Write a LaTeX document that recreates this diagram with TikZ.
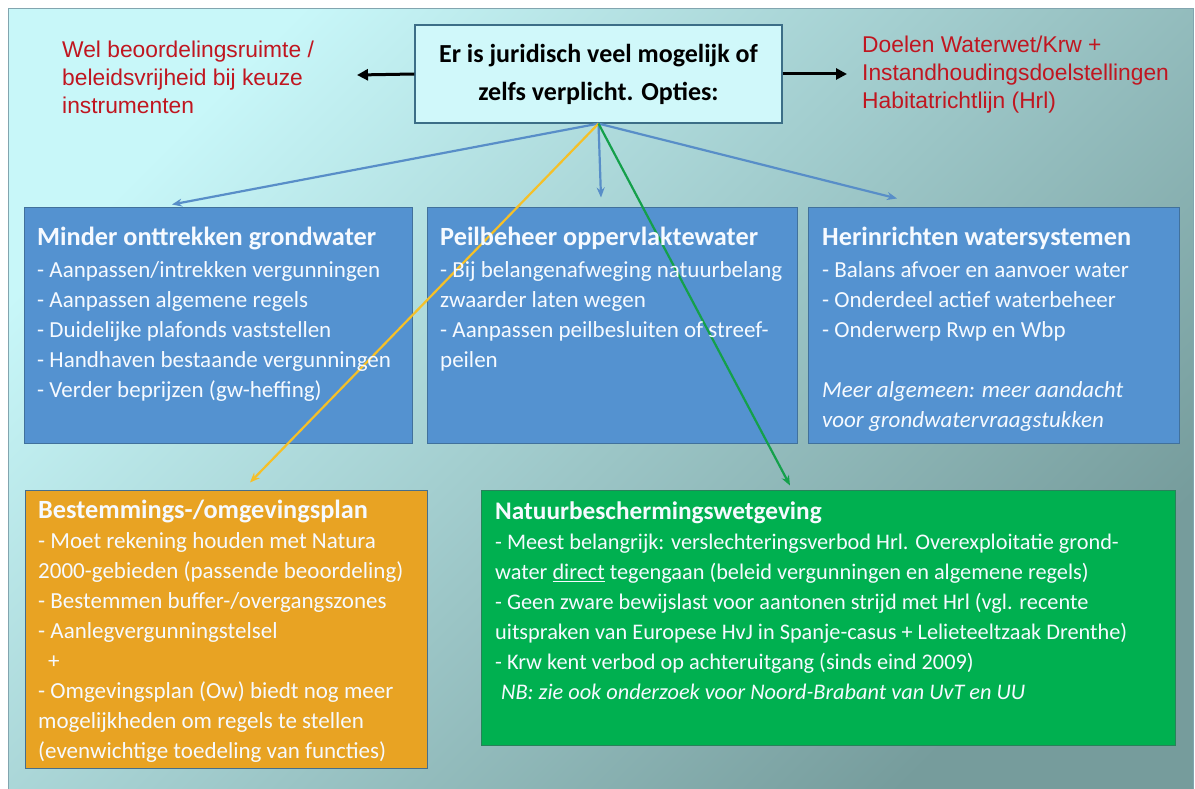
\documentclass[tikz,border=0pt]{standalone}
\usepackage{fontspec}
\setmainfont{Carlito}
\newfontfamily\arialfont{Liberation Sans}
\usetikzlibrary{arrows.meta}
\definecolor{bgtl}{RGB}{200,247,249}
\definecolor{bgmid}{RGB}{168,222,224}
\definecolor{bgbr}{RGB}{118,156,156}
\definecolor{bgrand}{RGB}{130,165,175}
\definecolor{optiesfill}{RGB}{208,248,250}
\definecolor{optiesrand}{RGB}{60,110,135}
\definecolor{rood}{RGB}{192,22,32}
\definecolor{blauw}{RGB}{84,146,208}
\definecolor{blauwrand}{RGB}{65,113,156}
\definecolor{blauwlijn}{RGB}{88,142,200}
\definecolor{oranje}{RGB}{232,163,35}
\definecolor{oranjerand}{RGB}{70,110,140}
\definecolor{geel}{RGB}{245,192,40}
\definecolor{groen}{RGB}{0,176,80}
\definecolor{groenrand}{RGB}{40,130,90}
\definecolor{groenlijn}{RGB}{20,160,75}
\definecolor{wittekst}{RGB}{246,250,255}
\newcommand{\kop}[2][26.3]{{\bfseries\fontsize{#1}{30}\selectfont #2}}
\tikzset{
  vak/.style={draw, line width=1pt, inner sep=0pt},
  vaktekst/.style={anchor=north west, inner sep=0pt, align=left, text=wittekst,
    font=\fontsize{23}{30}\selectfont},
  roodtekst/.style={anchor=north west, inner sep=0pt, align=left, text=rood,
    font=\arialfont\fontsize{22.8}{28}\selectfont},
  opties/.style={draw=optiesrand, fill=optiesfill, line width=1.2pt,
    minimum width=367pt, minimum height=98pt, align=center,
    font=\bfseries\fontsize{26}{38}\selectfont},
  zwartepijl/.style={line width=3pt, -{Triangle[length=11pt,width=11pt]}},
  lijnpijl/.style={line width=2.2pt, -{Stealth[length=10pt,width=8pt]}}
}
\begin{document}
\begin{tikzpicture}[x=1pt,y=-1pt]
  \useasboundingbox (0,0) rectangle (1195,789);
  \fill[white] (0,0) rectangle (1195,789);
  \shade[top color=bgtl, middle color=bgmid, bottom color=bgbr, shading angle=45]
    (8,9) rectangle (1193,789);
  \draw[bgrand, line width=1pt] (8,9) rectangle (1193,789);

  \node[opties] (opties) at (598.5,74) {Er is juridisch veel mogelijk of\\zelfs verplicht. Opties:};
  \node[roodtekst] (wel) at (62,41) {Wel beoordelingsruimte /\\beleidsvrijheid bij keuze\\instrumenten};
  \node[roodtekst] (doelen) at (862,36) {Doelen Waterwet/Krw +\\Instandhoudingsdoelstellingen\\Habitatrichtlijn (Hrl)};
  \coordinate (welpijl) at (357,75);
  \coordinate (doelenpijl) at (847,74);

  \node[vak, fill=blauw, draw=blauwrand, minimum width=388pt, minimum height=235pt] (minder) at (218,325.5) {};
  \node[vak, fill=blauw, draw=blauwrand, minimum width=370pt, minimum height=235pt] (peil) at (612,325.5) {};
  \node[vak, fill=blauw, draw=blauwrand, minimum width=371pt, minimum height=235pt] (herin) at (993.5,325.5) {};
  \node[vak, fill=oranje, draw=oranjerand, minimum width=402pt, minimum height=278pt] (bestem) at (226,629) {};
  \node[vak, fill=groen, draw=groenrand, minimum width=694pt, minimum height=255pt] (natuur) at (828,617.5) {};

  \begin{scope}[zwartepijl]
    \draw (opties.west) to (welpijl);
    \draw (opties.east) to (doelenpijl);
  \end{scope}
  \begin{scope}[lijnpijl]
    \draw[blauwlijn] (opties.south) to ([shift={(-46,-3)}]minder.north);
    \draw[blauwlijn] (opties.south) to ([shift={(-11,-10)}]peil.north);
    \draw[blauwlijn] (opties.south) to ([shift={(-96.5,-9)}]herin.north);
    \draw[geel] (opties.south) to ([shift={(24,-7)}]bestem.north);
    \draw[groenlijn] (opties.south) to ([shift={(-38,-4)}]natuur.north);
  \end{scope}

  \node[vaktekst] (mindertekst) at (37,227) {\kop{Minder onttrekken grondwater}\\[2pt]
    - Aanpassen/intrekken vergunningen\\
    - Aanpassen algemene regels\\
    - Duidelijke plafonds vaststellen\\
    - Handhaven bestaande vergunningen\\
    - Verder beprijzen (gw-heffing)};
  \node[vaktekst] (peiltekst) at (440,227) {\kop{Peilbeheer oppervlaktewater}\\[2pt]
    - Bij belangenafweging natuurbelang\\
    zwaarder laten wegen\\
    - Aanpassen peilbesluiten of streef-\\
    peilen};
  \node[vaktekst] (herintekst) at (822,227) {\kop{Herinrichten watersystemen}\\[2pt]
    - Balans afvoer en aanvoer water\\
    - Onderdeel actief waterbeheer\\
    - Onderwerp Rwp en Wbp\\[30pt]
    {\itshape Meer algemeen: meer aandacht}\\
    {\itshape voor grondwatervraagstukken}};
  \node[vaktekst] (bestemtekst) at (38,500) {\kop{Bestemmings-/omgevingsplan}\\
    - Moet rekening houden met Natura\\
    2000-gebieden (passende beoordeling)\\
    - Bestemmen buffer-/overgangszones\\
    - Aanlegvergunningstelsel\\
    \hspace{10pt}+\\
    - Omgevingsplan (Ow) biedt nog meer\\
    mogelijkheden om regels te stellen\\
    (evenwichtige toedeling van functies)};
  \node[vaktekst, font=\fontsize{22.3}{30}\selectfont] (natuurtekst) at (495,502) {\kop[25.3]{Natuurbeschermingswetgeving}\\
    - Meest belangrijk: verslechteringsverbod Hrl. Overexploitatie grond-\\
    water \underline{direct} tegengaan (beleid vergunningen en algemene regels)\\
    - Geen zware bewijslast voor aantonen strijd met Hrl (vgl. recente\\
    uitspraken van Europese HvJ in Spanje-casus + Lelieteeltzaak Drenthe)\\
    - Krw kent verbod op achteruitgang (sinds eind 2009)\\
    \hspace{6pt}{\itshape NB: zie ook onderzoek voor Noord-Brabant van UvT en UU}};
\end{tikzpicture}
\end{document}
